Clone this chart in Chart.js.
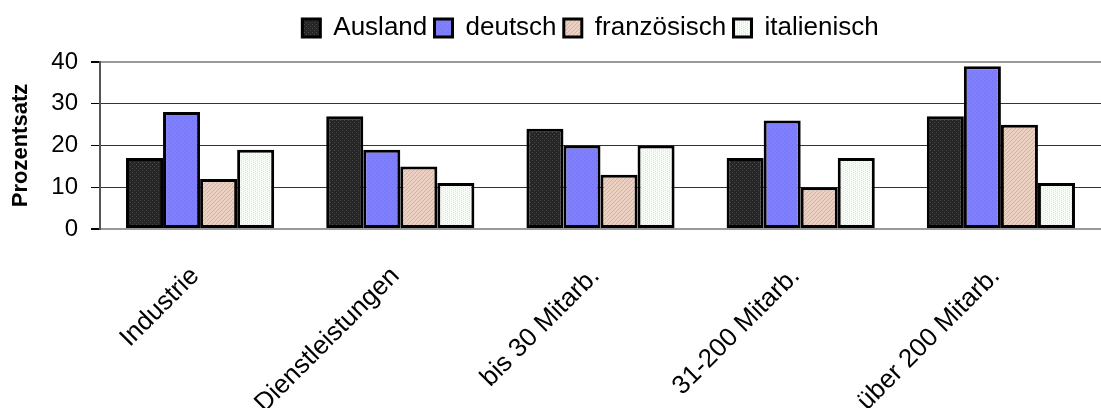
<!DOCTYPE html>
<html><head><meta charset="utf-8">
<script src="https://cdn.jsdelivr.net/npm/chart.js@4"></script>
<style>html,body{margin:0;padding:0;background:#fff}#wrap{width:1101px;height:408px}</style>
</head><body><div id="wrap"><canvas id="c" width="1101" height="408"></canvas></div>
<script>
const categories = ["Industrie", "Dienstleistungen", "bis 30 Mitarb.", "31-200 Mitarb.", "über 200 Mitarb."];
const seriesNames = ["Ausland", "deutsch", "französisch", "italienisch"];
const ausland = [17, 27, 24, 17, 27];
const deutsch = [28, 19, 20, 26, 39];
const franzoesisch = [12, 15, 13, 10, 25];
const italienisch = [19, 11, 20, 17, 11];
const yTicks = [0, 10, 20, 30, 40];

function makePattern(base, fg, kind) {
  const c = document.createElement('canvas');
  c.width = 4; c.height = 4;
  const g = c.getContext('2d');
  g.fillStyle = base; g.fillRect(0, 0, 4, 4);
  g.fillStyle = fg;
  if (kind === 'dots') { g.fillRect(0, 0, 1, 1); g.fillRect(2, 2, 1, 1); }
  else if (kind === 'diag') { for (let i = 0; i < 4; i++) g.fillRect(i, 3 - i, 1, 1); }
  else if (kind === 'vdots') { g.fillRect(1, 0, 1, 1); g.fillRect(1, 2, 1, 1); g.fillRect(3, 1, 1, 1); g.fillRect(3, 3, 1, 1); }
  return g.createPattern(c, 'repeat');
}
const fills = [
  makePattern('#262626', '#4a4a4a', 'dots'),
  makePattern('#8080ff', '#7272ee', 'dots'),
  makePattern('#ecd0c2', '#d8b0a0', 'diag'),
  makePattern('#f7fcf7', '#d4ead4', 'vdots')
];
const values = [ausland, deutsch, franzoesisch, italienisch];
const FONT = "'Liberation Sans', Arial, sans-serif";

const legendTweak = {
  id: 'legendTweak',
  beforeLayout(chart) {
    const l = chart.legend;
    if (l && !l._wrapped) {
      const f = l.fit.bind(l);
      l.fit = function () { f(); this.height = 47; };
      l._wrapped = true;
    }
  },
  afterLayout(chart) {
    const l = chart.legend;
    if (l) { l.left += 40; l.right += 40; }
  }
};

new Chart(document.getElementById('c'), {
  type: 'bar',
  data: {
    labels: categories,
    datasets: seriesNames.map((n, i) => ({
      label: i < seriesNames.length - 1 ? n + ' ' : n,
      data: values[i], backgroundColor: fills[i],
      borderColor: '#000', borderWidth: 3, borderSkipped: false,
      categoryPercentage: 0.74, barPercentage: 1.0
    }))
  },
  plugins: [legendTweak],
  options: {
    responsive: false, animation: false,
    layout: { padding: { top: 15, right: 0, left: 0, bottom: 0 } },
    plugins: {
      legend: {
        position: 'top',
        labels: { font: { family: FONT, size: 26 }, color: '#000', boxWidth: 18, boxHeight: 18, padding: 0 }
      },
      tooltip: { enabled: false }
    },
    scales: {
      x: {
        grid: { display: false, drawTicks: false },
        border: { color: '#999', width: 2 },
        ticks: { font: { family: FONT, size: 26 }, color: '#000', maxRotation: 45, minRotation: 45, padding: 32, labelOffset: -5, autoSkip: false },
        afterFit: s => { s.height = 179; }
      },
      y: {
        min: 0, max: 40,
        afterBuildTicks: s => { s.ticks = yTicks.map(v => ({ value: v })); },
        grid: {
          color: ctx => (ctx.tick && (ctx.tick.value === 40 || ctx.tick.value === 0)) ? '#999' : '#333',
          lineWidth: ctx => (ctx.tick && (ctx.tick.value === 40 || ctx.tick.value === 0)) ? 2 : 1,
          tickColor: '#000', tickLength: 9
        },
        border: { color: '#555', width: 2 },
        ticks: { font: { family: FONT, size: 24 }, color: '#000', padding: 13 },
        title: { display: true, text: 'Prozentsatz', font: { family: FONT, size: 22, weight: 'bold' }, color: '#000', padding: { top: 8, bottom: 0 } },
        afterFit: s => { s.width = 100; }
      }
    }
  }
});
</script>
</body></html>
